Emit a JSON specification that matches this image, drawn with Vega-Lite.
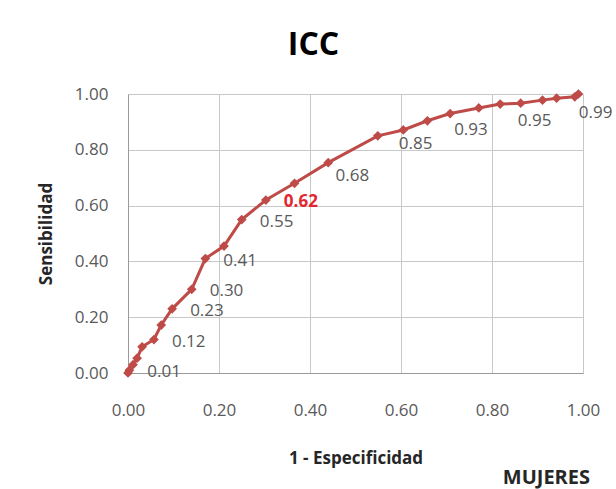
{
  "$schema": "https://vega.github.io/schema/vega-lite/v6.json",
  "width": 455,
  "height": 279,
  "autosize": {"type": "none"},
  "padding": {"left": 128, "top": 94, "right": 33, "bottom": 116},
  "background": "white",
  "config": {
    "view": {"stroke": null},
    "font": "Open Sans"
  },
  "title": {
    "text": "ICC",
    "fontSize": 32,
    "fontWeight": "bold",
    "font": "Open Sans",
    "color": "#000000",
    "anchor": "middle",
    "dx": -42,
    "offset": 23
  },
  "data": {
    "values": [
      {"fpr": 0.0, "sens": 0.0, "label": ""},
      {"fpr": 0.003, "sens": 0.01, "label": "0.01"},
      {"fpr": 0.011, "sens": 0.03, "label": ""},
      {"fpr": 0.02, "sens": 0.053, "label": ""},
      {"fpr": 0.031, "sens": 0.094, "label": ""},
      {"fpr": 0.057, "sens": 0.12, "label": "0.12"},
      {"fpr": 0.073, "sens": 0.172, "label": ""},
      {"fpr": 0.097, "sens": 0.23, "label": "0.23"},
      {"fpr": 0.14, "sens": 0.3, "label": "0.30"},
      {"fpr": 0.17, "sens": 0.41, "label": "0.41"},
      {"fpr": 0.211, "sens": 0.455, "label": ""},
      {"fpr": 0.25, "sens": 0.55, "label": "0.55"},
      {"fpr": 0.303, "sens": 0.62, "label": "0.62"},
      {"fpr": 0.366, "sens": 0.68, "label": "0.68"},
      {"fpr": 0.44, "sens": 0.754, "label": ""},
      {"fpr": 0.549, "sens": 0.85, "label": "0.85"},
      {"fpr": 0.605, "sens": 0.871, "label": ""},
      {"fpr": 0.658, "sens": 0.904, "label": ""},
      {"fpr": 0.708, "sens": 0.93, "label": "0.93"},
      {"fpr": 0.771, "sens": 0.95, "label": "0.95"},
      {"fpr": 0.818, "sens": 0.964, "label": ""},
      {"fpr": 0.863, "sens": 0.967, "label": ""},
      {"fpr": 0.911, "sens": 0.978, "label": ""},
      {"fpr": 0.942, "sens": 0.985, "label": ""},
      {"fpr": 0.982, "sens": 0.99, "label": "0.99"},
      {"fpr": 0.99, "sens": 1.0, "label": ""}
    ]
  },
  "layer": [
    {
      "mark": {"type": "line", "color": "#be4b48", "strokeWidth": 3},
      "encoding": {
        "x": {
          "field": "fpr",
          "type": "quantitative",
          "scale": {"domain": [0, 1], "nice": false},
          "axis": {
            "values": [0, 0.2, 0.4, 0.6, 0.8, 1],
            "format": ".2f",
            "ticks": false,
            "labelFlush": false,
            "grid": true,
            "gridColor": "#c8c8c8",
            "gridWidth": 1,
            "domainColor": "#9a9a9a",
            "labelFont": "Open Sans",
            "labelFontSize": 17,
            "labelColor": "#595959",
            "labelPadding": 29,
            "title": "1 - Especificidad",
            "titleFont": "Open Sans",
            "titleFontSize": 17,
            "titleFontWeight": "bold",
            "titleColor": "#262626",
            "titlePadding": 32
          }
        },
        "y": {
          "field": "sens",
          "type": "quantitative",
          "scale": {"domain": [0, 1], "nice": false},
          "axis": {
            "values": [0, 0.2, 0.4, 0.6, 0.8, 1],
            "format": ".2f",
            "ticks": false,
            "labelFlush": false,
            "grid": true,
            "gridColor": "#c8c8c8",
            "gridWidth": 1,
            "domainColor": "#9a9a9a",
            "labelFont": "Open Sans",
            "labelFontSize": 17,
            "labelColor": "#595959",
            "labelPadding": 20,
            "title": "Sensibilidad",
            "titleFont": "Open Sans",
            "titleFontSize": 17,
            "titleFontWeight": "bold",
            "titleColor": "#262626",
            "titlePadding": 19
          }
        }
      }
    },
    {
      "mark": {"type": "point", "shape": "diamond", "filled": true, "size": 95, "color": "#be4b48", "opacity": 1},
      "encoding": {
        "x": {"field": "fpr", "type": "quantitative"},
        "y": {"field": "sens", "type": "quantitative"}
      }
    },
    {
      "transform": [{"filter": "datum.label != '' && datum.sens < 0.6"}],
      "mark": {"type": "text", "align": "left", "baseline": "middle", "dx": 18, "dy": 2, "fontSize": 17, "font": "Open Sans", "color": "#595959"},
      "encoding": {
        "x": {"field": "fpr", "type": "quantitative"},
        "y": {"field": "sens", "type": "quantitative"},
        "text": {"field": "label"}
      }
    },
    {
      "transform": [{"filter": "datum.label == '0.62'"}],
      "mark": {"type": "text", "align": "left", "baseline": "middle", "dx": 18, "dy": 2, "fontSize": 17, "font": "Open Sans", "fontWeight": "bold", "color": "#e3262e"},
      "encoding": {
        "x": {"field": "fpr", "type": "quantitative"},
        "y": {"field": "sens", "type": "quantitative"},
        "text": {"field": "label"}
      }
    },
    {
      "transform": [{"filter": "datum.label == '0.68'"}],
      "mark": {"type": "text", "align": "left", "baseline": "middle", "dx": 41, "dy": -7, "fontSize": 17, "font": "Open Sans", "color": "#595959"},
      "encoding": {
        "x": {"field": "fpr", "type": "quantitative"},
        "y": {"field": "sens", "type": "quantitative"},
        "text": {"field": "label"}
      }
    },
    {
      "transform": [{"filter": "datum.label == '0.95'"}],
      "mark": {"type": "text", "align": "left", "baseline": "middle", "dx": 39, "dy": 13, "fontSize": 17, "font": "Open Sans", "color": "#595959"},
      "encoding": {
        "x": {"field": "fpr", "type": "quantitative"},
        "y": {"field": "sens", "type": "quantitative"},
        "text": {"field": "label"}
      }
    },
    {
      "transform": [{"filter": "datum.label == '0.85'"}],
      "mark": {"type": "text", "align": "left", "baseline": "middle", "dx": 21, "dy": 8, "fontSize": 17, "font": "Open Sans", "color": "#595959"},
      "encoding": {
        "x": {"field": "fpr", "type": "quantitative"},
        "y": {"field": "sens", "type": "quantitative"},
        "text": {"field": "label"}
      }
    },
    {
      "transform": [{"filter": "datum.label == '0.93' || datum.label == '0.99'"}],
      "mark": {"type": "text", "align": "left", "baseline": "middle", "dx": 4, "dy": 16, "fontSize": 17, "font": "Open Sans", "color": "#595959"},
      "encoding": {
        "x": {"field": "fpr", "type": "quantitative"},
        "y": {"field": "sens", "type": "quantitative"},
        "text": {"field": "label"}
      }
    },
    {
      "data": {"values": [{"name": "MUJERES"}]},
      "mark": {"type": "text", "align": "right", "baseline": "middle", "dx": 7, "dy": 105, "fontSize": 20, "font": "Open Sans", "fontWeight": "bold", "color": "#262626"},
      "encoding": {
        "x": {"datum": 1, "type": "quantitative"},
        "y": {"datum": 0, "type": "quantitative"},
        "text": {"field": "name"}
      }
    }
  ]
}
